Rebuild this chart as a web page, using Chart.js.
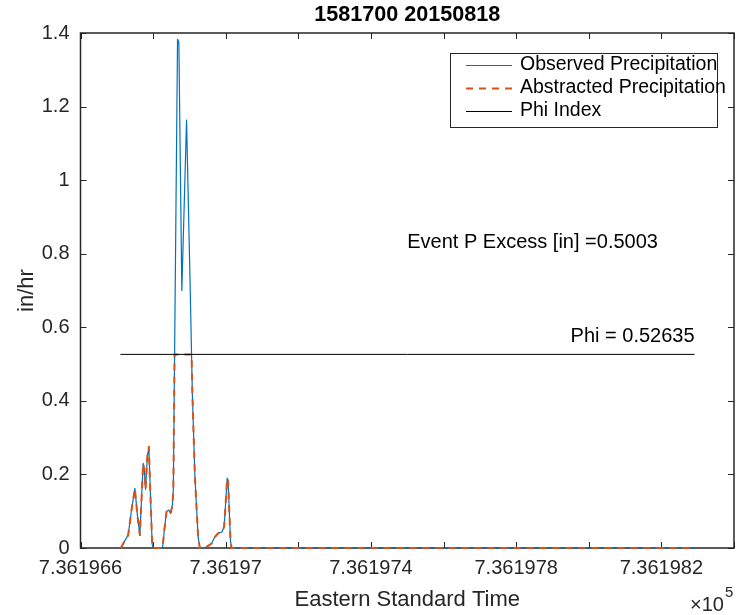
<!DOCTYPE html>
<html>
<head>
<meta charset="utf-8">
<title>1581700 20150818</title>
<script src="https://cdn.jsdelivr.net/npm/chart.js@4.4.1/dist/chart.umd.min.js"></script>
<style>
  html, body { margin: 0; padding: 0; background: #fff; }
  #hyetograph { display: block; }
</style>
</head>
<body>
<canvas id="hyetograph" width="742" height="615"></canvas>
<script>
// Times are MATLAB datenums (days), rates in in/hr
const obsTime = [736196.7112, 736196.7222, 736196.7313, 736196.7401, 736196.7498, 736196.7566, 736196.7635,
  736196.7726, 736196.7759, 736196.7792, 736196.7842, 736196.7883, 736196.7924, 736196.7974, 736196.8007,
  736196.8260, 736196.8310, 736196.8370, 736196.8434, 736196.8480, 736196.8530, 736196.8557, 736196.8673,
  736196.8709, 736196.8791, 736196.8921, 736196.9012, 736196.9081, 736196.9149, 736196.9196, 736196.9240,
  736196.9287, 736196.9425, 736196.9609, 736196.9700, 736196.9791, 736196.9901, 736196.9956, 736197.0003,
  736197.0039, 736197.0066, 736197.0094, 736197.0132, 736197.0160, 736198.2914];
const obsRate = [0, 0.02, 0.035, 0.10, 0.162, 0.09, 0.035,
  0.23, 0.21, 0.16, 0.25, 0.275, 0.15, 0.01, 0,
  0, 0.05, 0.099, 0.103, 0.094, 0.115, 0.16, 1.383,
  1.375, 0.70, 1.163, 0.75, 0.42, 0.20, 0.11, 0.03,
  0, 0, 0.012, 0.03, 0.04, 0.044, 0.058, 0.13,
  0.19, 0.18, 0.11, 0.02, 0, 0];

const absTime = [736196.7112, 736196.7222, 736196.7313, 736196.7401, 736196.7498, 736196.7566, 736196.7635,
  736196.7726, 736196.7759, 736196.7792, 736196.7842, 736196.7883, 736196.7924, 736196.7974, 736196.8007,
  736196.8260, 736196.8310, 736196.8370, 736196.8434, 736196.8480, 736196.8530, 736196.8557, 736196.8591,
  736196.9059, 736196.9081, 736196.9149, 736196.9196, 736196.9240,
  736196.9287, 736196.9425, 736196.9609, 736196.9700, 736196.9791, 736196.9901, 736196.9956, 736197.0003,
  736197.0039, 736197.0066, 736197.0094, 736197.0132, 736197.0160, 736198.2914];
const absRate = [0, 0.02, 0.035, 0.10, 0.162, 0.09, 0.035,
  0.23, 0.21, 0.16, 0.25, 0.275, 0.15, 0.01, 0,
  0, 0.05, 0.099, 0.103, 0.094, 0.115, 0.16, 0.52635,
  0.52635, 0.42, 0.20, 0.11, 0.03,
  0, 0, 0.012, 0.03, 0.04, 0.044, 0.058, 0.13,
  0.19, 0.18, 0.11, 0.02, 0, 0];

const phiTime = [736196.7100, 736198.2914];
const phiRate = [0.52635, 0.52635];

const xTicks = [736196.6, 736196.8, 736197.0, 736197.2, 736197.4, 736197.6, 736197.8, 736198.0, 736198.2, 736198.4];
const xTickLabels = ["7.361966", "", "7.36197", "", "7.361974", "", "7.361978", "", "7.361982", ""];
const yTicks = [0, 0.2, 0.4, 0.6, 0.8, 1.0, 1.2, 1.4];
const yTickLabels = ["0", "0.2", "0.4", "0.6", "0.8", "1", "1.2", "1.4"];

const seriesNames = ["Observed Precipitation", "Abstracted Precipitation", "Phi Index"];
const chartTitle = "1581700 20150818";
const eventExcess = "Event P Excess [in] =0.5003";
const phiText = "Phi = 0.52635";
const eventTextAt = [736197.5, 0.83];
const phiTextAt = [736198.2914, 0.57635];

const FONT = "'Liberation Sans', Arial, Helvetica, sans-serif";
const AXIS_COLOR = "#262626";
const BLUE = "#0072BD";
const ORANGE = "#D95319";
const DASH = [7, 6];

function toPoints(xs, ys) {
  return xs.map((x, i) => ({ x: x, y: ys[i] }));
}

// axes box with inward ticks, drawn under the lines like MATLAB
const matlabAxes = {
  id: "matlabAxes",
  beforeDatasetsDraw(chart) {
    const { ctx, chartArea: a, scales } = chart;
    const len = 6;
    ctx.save();
    ctx.strokeStyle = AXIS_COLOR;
    ctx.lineWidth = 1;
    ctx.beginPath();
    xTicks.forEach(v => {
      const px = Math.round(scales.x.getPixelForValue(v)) + 0.5;
      ctx.moveTo(px, a.bottom); ctx.lineTo(px, a.bottom - len);
      ctx.moveTo(px, a.top); ctx.lineTo(px, a.top + len);
    });
    yTicks.forEach(v => {
      const py = Math.round(scales.y.getPixelForValue(v)) + 0.5;
      ctx.moveTo(a.left, py); ctx.lineTo(a.left + len, py);
      ctx.moveTo(a.right, py); ctx.lineTo(a.right - len, py);
    });
    ctx.stroke();
    ctx.lineWidth = 1.5;
    ctx.strokeRect(a.left, a.top, a.right - a.left, a.bottom - a.top);
    ctx.restore();
  },
  afterDraw(chart) {
    const { ctx, chartArea: a, scales } = chart;
    const midX = (a.left + a.right) / 2;
    ctx.save();

    // title
    ctx.fillStyle = "#000";
    ctx.textAlign = "center";
    ctx.textBaseline = "middle";
    ctx.font = "bold 21.6px " + FONT;
    ctx.fillText(chartTitle, midX, 15);

    // axis titles
    ctx.fillStyle = AXIS_COLOR;
    ctx.font = "22px " + FONT;
    ctx.fillText("Eastern Standard Time", midX, 600);
    ctx.save();
    ctx.translate(27, (a.top + a.bottom) / 2);
    ctx.rotate(-Math.PI / 2);
    ctx.fillText("in/hr", 0, 0);
    ctx.restore();

    // exponent of the x axis
    ctx.textAlign = "left";
    ctx.font = "20px " + FONT;
    ctx.fillText("\u00d710", 690, 605);
    ctx.font = "15px " + FONT;
    ctx.fillText("5", 725, 593);

    // annotations
    ctx.fillStyle = "#000";
    ctx.font = "20px " + FONT;
    ctx.textAlign = "left";
    ctx.fillText(eventExcess, scales.x.getPixelForValue(eventTextAt[0]), scales.y.getPixelForValue(eventTextAt[1]));
    ctx.textAlign = "right";
    ctx.fillText(phiText, scales.x.getPixelForValue(phiTextAt[0]), scales.y.getPixelForValue(phiTextAt[1]));

    // legend
    const box = { x: 450.5, y: 53.5, w: 267, h: 74 };
    ctx.fillStyle = "#fff";
    ctx.fillRect(box.x, box.y, box.w, box.h);
    ctx.strokeStyle = AXIS_COLOR;
    ctx.lineWidth = 1;
    ctx.strokeRect(box.x, box.y, box.w, box.h);
    ctx.font = "19.5px " + FONT;
    chart.data.datasets.forEach((ds, i) => {
      const rowY = 65 + i * 23;
      ctx.strokeStyle = ds.borderColor;
      ctx.lineWidth = ds.borderWidth;
      ctx.setLineDash(ds.borderDash || []);
      ctx.beginPath();
      ctx.moveTo(466, rowY + 0.5);
      ctx.lineTo(512, rowY + 0.5);
      ctx.stroke();
      ctx.setLineDash([]);
      ctx.fillStyle = "#000";
      ctx.textAlign = "left";
      ctx.fillText(ds.label, 520, rowY);
    });
    ctx.restore();
  }
};

document.addEventListener("DOMContentLoaded", () => {
  const canvas = document.getElementById("hyetograph");
  new Chart(canvas, {
    type: "line",
    data: {
      datasets: [
        {
          label: seriesNames[0],
          data: toPoints(obsTime, obsRate),
          borderColor: BLUE,
          borderWidth: 1.2,
          order: 3,
        },
        {
          label: seriesNames[1],
          data: toPoints(absTime, absRate),
          borderColor: ORANGE,
          borderWidth: 2,
          borderDash: DASH,
          order: 2,
        },
        {
          label: seriesNames[2],
          data: toPoints(phiTime, phiRate),
          borderColor: "#000",
          borderWidth: 1,
          order: 1,
        },
      ],
    },
    options: {
      responsive: false,
      animation: false,
      devicePixelRatio: 1,
      layout: { padding: { top: 33, right: 7, left: 0, bottom: 0 } },
      elements: {
        point: { radius: 0, hoverRadius: 0 },
        line: { tension: 0, fill: false, borderJoinStyle: "round" },
      },
      datasets: { line: { clip: false } },
      plugins: {
        legend: { display: false },
        tooltip: { enabled: false },
        title: { display: false },
      },
      scales: {
        x: {
          type: "linear",
          min: xTicks[0],
          max: xTicks[xTicks.length - 1],
          grid: { display: false, drawTicks: false },
          border: { display: false },
          afterBuildTicks: scale => { scale.ticks = xTicks.map(v => ({ value: v })); },
          afterFit: scale => { scale.height = 67; },
          ticks: {
            autoSkip: false,
            maxRotation: 0,
            padding: 8,
            color: AXIS_COLOR,
            font: { family: FONT, size: 20 },
            callback: (v, i) => xTickLabels[i],
          },
        },
        y: {
          min: yTicks[0],
          max: yTicks[yTicks.length - 1],
          grid: { display: false, drawTicks: false },
          border: { display: false },
          afterBuildTicks: scale => { scale.ticks = yTicks.map(v => ({ value: v })); },
          afterFit: scale => { scale.width = 80.5; },
          ticks: {
            padding: 11,
            color: AXIS_COLOR,
            font: { family: FONT, size: 20 },
            callback: (v, i) => yTickLabels[i],
          },
        },
      },
    },
    plugins: [matlabAxes],
  });
});
</script>
</body>
</html>
